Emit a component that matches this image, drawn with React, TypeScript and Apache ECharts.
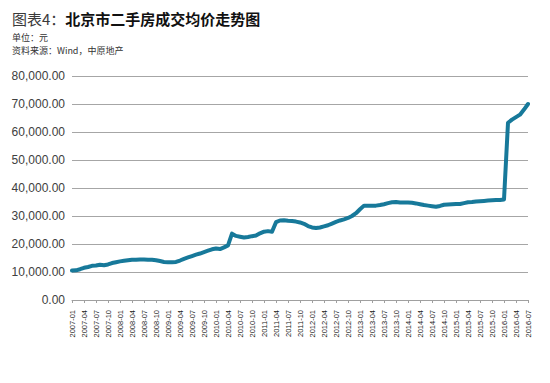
import React, { useEffect, useRef } from "react";
import * as echarts from "echarts";

const startYear = 2007;
const months: string[] = [];
for (let i = 0; i < 115; i++) {
  const y = startYear + Math.floor(i / 12);
  const m = (i % 12) + 1;
  months.push(`${y}-${m < 10 ? "0" + m : m}`);
}

const prices2007_2009: number[] = [
  10500, 10600, 11000, 11500, 11800, 12200, 12300, 12600, 12400, 12700, 13200, 13500,
  13800, 14000, 14200, 14400, 14400, 14500, 14500, 14400, 14400, 14200, 13900, 13600,
  13500, 13500, 13600, 14100, 14700, 15200, 15700, 16200, 16600, 17100, 17600, 18100,
];
const prices2010_2012: number[] = [
  18400, 18200, 18800, 19500, 23700, 22900, 22600, 22300, 22500, 22800, 23000, 23800,
  24400, 24600, 24400, 27800, 28400, 28500, 28300, 28200, 28000, 27700, 27200, 26400,
  25900, 25700, 25900, 26300, 26700, 27300, 27900, 28400, 28800, 29300, 30000, 31000,
];
const prices2013_2015: number[] = [
  32400, 33700, 33700, 33700, 33700, 33900, 34200, 34600, 34900, 35000, 34800, 34800,
  34800, 34700, 34500, 34200, 33900, 33700, 33500, 33300, 33600, 34000, 34100, 34200,
  34300, 34300, 34600, 34900, 35000, 35200, 35300, 35400, 35500, 35600, 35700, 35700,
];
const prices2016: number[] = [35900, 63300, 64400, 65300, 66200, 68000, 70000];

const prices = [...prices2007_2009, ...prices2010_2012, ...prices2013_2015, ...prices2016];

const titlePrefix = "图表4：";
const titleMain = "北京市二手房成交均价走势图";
const unitText = "单位：元";
const sourceText = "资料来源：Wind，中原地产";

export default function App() {
  const ref = useRef<HTMLDivElement>(null);
  useEffect(() => {
    if (!ref.current) return;
    const chart = echarts.init(ref.current, null, { renderer: "svg" });
    const cjk = "'Noto Sans CJK SC', 'Liberation Sans', sans-serif";
    chart.setOption({
      animation: false,
      backgroundColor: "#ffffff",
      graphic: [
        {
          type: "text",
          left: 12,
          top: 11,
          style: {
            text: `{a|${titlePrefix}}{b|${titleMain}}`,
            rich: {
              a: { fontSize: 15, fontFamily: cjk, fill: "#3a3a3a", fontWeight: "normal" },
              b: { fontSize: 15, fontFamily: cjk, fill: "#111111", fontWeight: "bold" },
            },
          },
        },
        {
          type: "text",
          left: 12,
          top: 33,
          style: { text: unitText, fontSize: 9, fontFamily: cjk, fill: "#333333" },
        },
        {
          type: "text",
          left: 12,
          top: 46,
          style: { text: sourceText, fontSize: 9, fontFamily: cjk, fill: "#333333" },
        },
      ],
      grid: { left: 72, right: 22, top: 76, bottom: 83, containLabel: false },
      xAxis: {
        type: "category",
        data: months,
        boundaryGap: false,
        axisLine: { show: true, lineStyle: { color: "#a0a0a0", width: 1 } },
        axisTick: { show: true, interval: 2, length: 3, lineStyle: { color: "#a0a0a0" } },
        axisLabel: {
          interval: 2,
          rotate: 90,
          fontSize: 7.5,
          margin: 10,
          color: "#222222",
          fontFamily: "'Liberation Sans', Arial, sans-serif",
        },
        splitLine: { show: false },
      },
      yAxis: {
        type: "value",
        min: 0,
        max: 80000,
        interval: 10000,
        axisLine: { show: false },
        axisTick: { show: false },
        axisLabel: {
          fontSize: 12,
          margin: 7,
          color: "#404040",
          fontFamily: "'Liberation Sans', Arial, sans-serif",
          formatter: (v: number) =>
            v.toLocaleString("en-US", { minimumFractionDigits: 2, maximumFractionDigits: 2 }),
        },
        splitLine: { show: true, lineStyle: { color: "#a6a6a6", width: 1 } },
      },
      series: [
        {
          type: "line",
          data: prices,
          showSymbol: false,
          symbol: "none",
          lineStyle: { color: "#17799a", width: 4, join: "round", cap: "round" },
          itemStyle: { color: "#17799a" },
        },
      ],
    });
    return () => chart.dispose();
  }, []);
  return (
    <div
      ref={ref}
      style={{ position: "fixed", left: 0, top: 0, width: 550, height: 383, background: "#fff" }}
    />
  );
}
